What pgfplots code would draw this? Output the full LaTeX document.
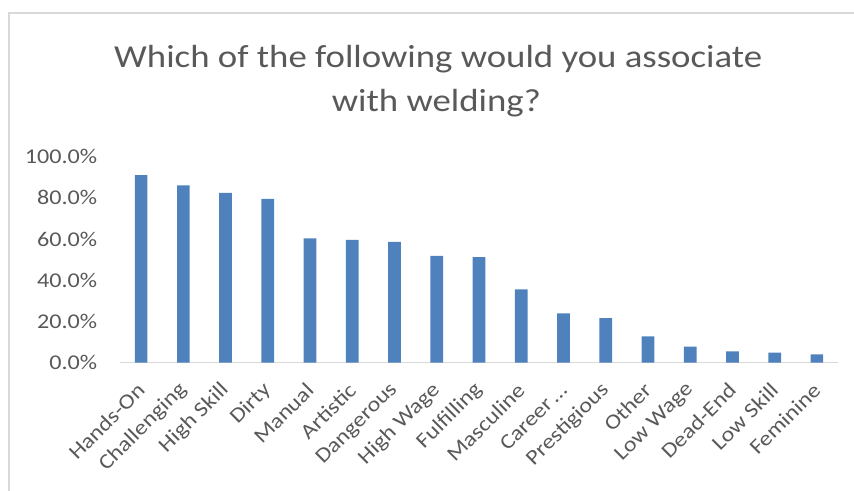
\documentclass[border=0pt]{standalone}
\usepackage{pgfplots}
\pgfplotsset{compat=1.18}
\usepackage{fontspec}
\setmainfont[FakeStretch=1.15]{Carlito}

\definecolor{barblue}{HTML}{4F81BD}
\definecolor{txtgray}{HTML}{595959}
\definecolor{linegray}{HTML}{D9D9D9}

\begin{document}
\begin{tikzpicture}
  % page area and chart frame
  \path[use as bounding box] (0,0) rectangle (854bp,-491bp);
  \draw[linegray, line width=2bp] (9bp,-491bp) -- (9bp,-12.5bp) -- (854bp,-12.5bp);

  % title
  \node[anchor=base, text=txtgray, font=\fontsize{32bp}{38bp}\selectfont, inner sep=0pt]
    at (438.3bp,-67.3bp) {Which of the following would you associate};
  \node[anchor=base, text=txtgray, font=\fontsize{32bp}{38bp}\selectfont, inner sep=0pt]
    at (436.4bp,-111.7bp) {with welding?};

  \begin{axis}[
    at={(120bp,-362.7bp)}, anchor=south west,
    scale only axis, width=718bp, height=206bp,
    xmin=-0.5, xmax=16.5, ymin=0, ymax=1,
    axis x line*=bottom, axis y line*=left,
    x axis line style={draw=linegray, line width=1.5bp, -},
    y axis line style={draw=none},
    major tick length=0pt,
    xtick=data,
    xticklabels={Hands-On,Challenging,High Skill,Dirty,Manual,Artistic,Dangerous,High Wage,Fulfilling,Masculine,Career\,\ldots,Prestigious,Other,Low Wage,Dead-End,Low Skill,Feminine},
    ytick={0,0.2,0.4,0.6,0.8,1},
    yticklabels={0.0\%,20.0\%,40.0\%,60.0\%,80.0\%,100.0\%},
    yticklabel style={anchor=east, inner sep=0pt, xshift=-22.7bp,
      text=txtgray, font=\fontsize{21bp}{25bp}\selectfont},
    xticklabel style={rotate=45, anchor=east, inner sep=0pt,
      text=txtgray, font=\fontsize{21bp}{25bp}\selectfont},
    xticklabel shift=24bp,
    ybar, bar width=12.7bp,
  ]
    \addplot[fill=barblue, draw=none] coordinates {
      (0,0.911) (1,0.861) (2,0.824) (3,0.795) (4,0.604) (5,0.596)
      (6,0.587) (7,0.519) (8,0.512) (9,0.356) (10,0.240) (11,0.217)
      (12,0.128) (13,0.078) (14,0.055) (15,0.049) (16,0.041)
    };
  \end{axis}
\end{tikzpicture}
\end{document}
